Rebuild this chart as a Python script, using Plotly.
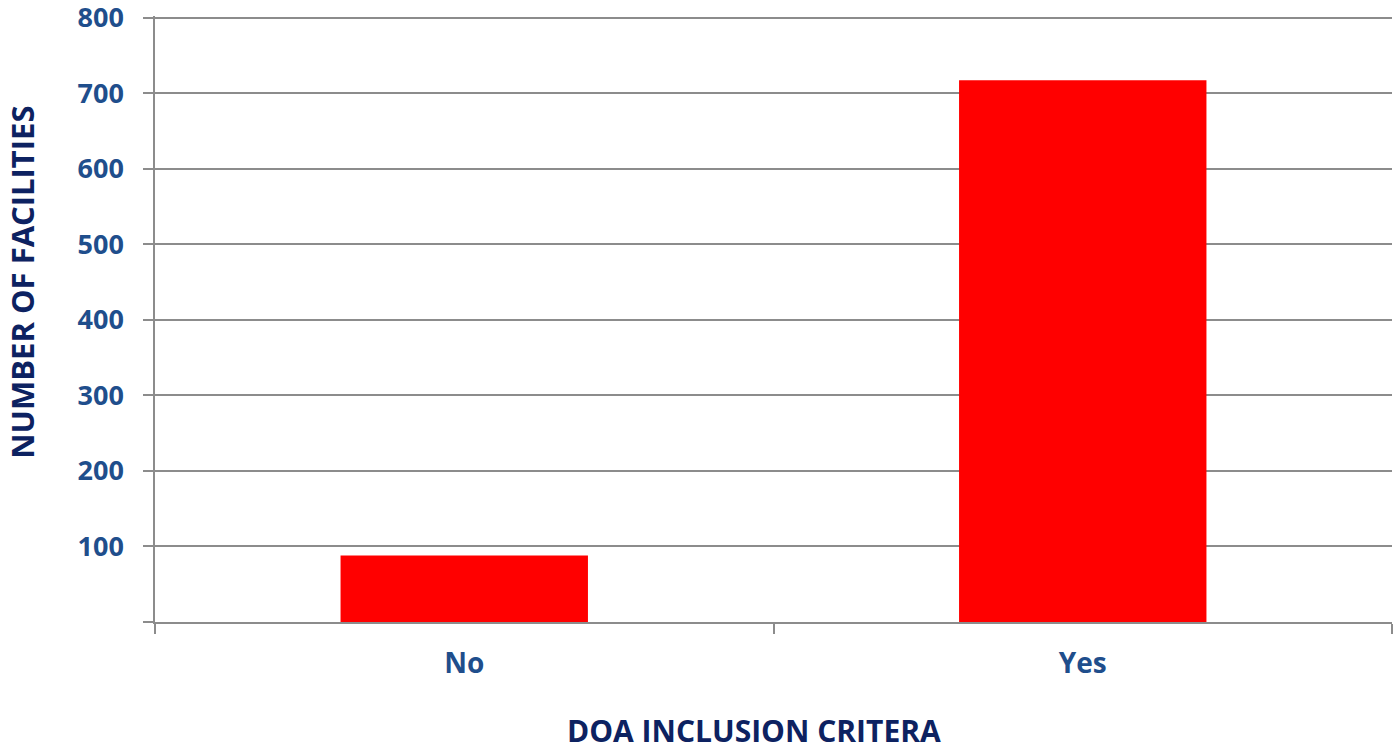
import plotly.graph_objects as go

categories = ["No", "Yes"]
facilities = [88, 717]
y_tick_values = [0, 100, 200, 300, 400, 500, 600, 700, 800]
y_tick_labels = ["", "100", "200", "300", "400", "500", "600", "700", "800"]

tick_color = "#1F4E8C"
title_color = "#0D2261"
grid_color = "#8C8C8C"
font_family = "Open Sans"

fig = go.Figure(
    go.Bar(
        x=categories,
        y=facilities,
        marker=dict(color="#FF0000", line=dict(width=0)),
    )
)

fig.update_layout(
    width=1394,
    height=749,
    paper_bgcolor="white",
    plot_bgcolor="white",
    bargap=0.6,
    showlegend=False,
    margin=dict(l=155, r=2, t=16, b=127, autoexpand=False),
    font=dict(family=font_family),
)

fig.update_xaxes(
    type="category",
    showgrid=False,
    showline=True,
    linecolor=grid_color,
    linewidth=1.5,
    ticks="outside",
    tickson="boundaries",
    ticklen=10,
    tickwidth=1.5,
    tickcolor=grid_color,
    tickfont=dict(family=font_family, size=28, color=tick_color, weight="bold"),
    ticklabelstandoff=16,
)

fig.update_yaxes(
    range=[0, 802],
    tickvals=y_tick_values,
    ticktext=y_tick_labels,
    showgrid=True,
    gridcolor=grid_color,
    gridwidth=1.5,
    showline=True,
    linecolor=grid_color,
    linewidth=1.5,
    zeroline=False,
    ticks="outside",
    ticklen=10,
    tickwidth=1.5,
    tickcolor=grid_color,
    tickfont=dict(family=font_family, size=27, color=tick_color, weight="bold"),
    ticklabelstandoff=14,
    ticklabeloverflow="allow",
)

fig.add_annotation(
    text="NUMBER OF FACILITIES",
    xref="paper", yref="paper",
    x=-0.1075, y=0.56,
    xanchor="center", yanchor="middle",
    textangle=-90,
    showarrow=False,
    font=dict(family=font_family, size=31, color=title_color, weight="bold"),
)

fig.add_annotation(
    text="DOA INCLUSION CRITERA",
    xref="paper", yref="paper",
    x=0.484, y=-0.179,
    xanchor="center", yanchor="middle",
    showarrow=False,
    font=dict(family=font_family, size=30, color=title_color, weight="bold"),
)

fig.write_html(
    "out.html",
    config={"displayModeBar": False},
    post_script="document.body.style.margin='0';document.body.style.padding='0';",
)
